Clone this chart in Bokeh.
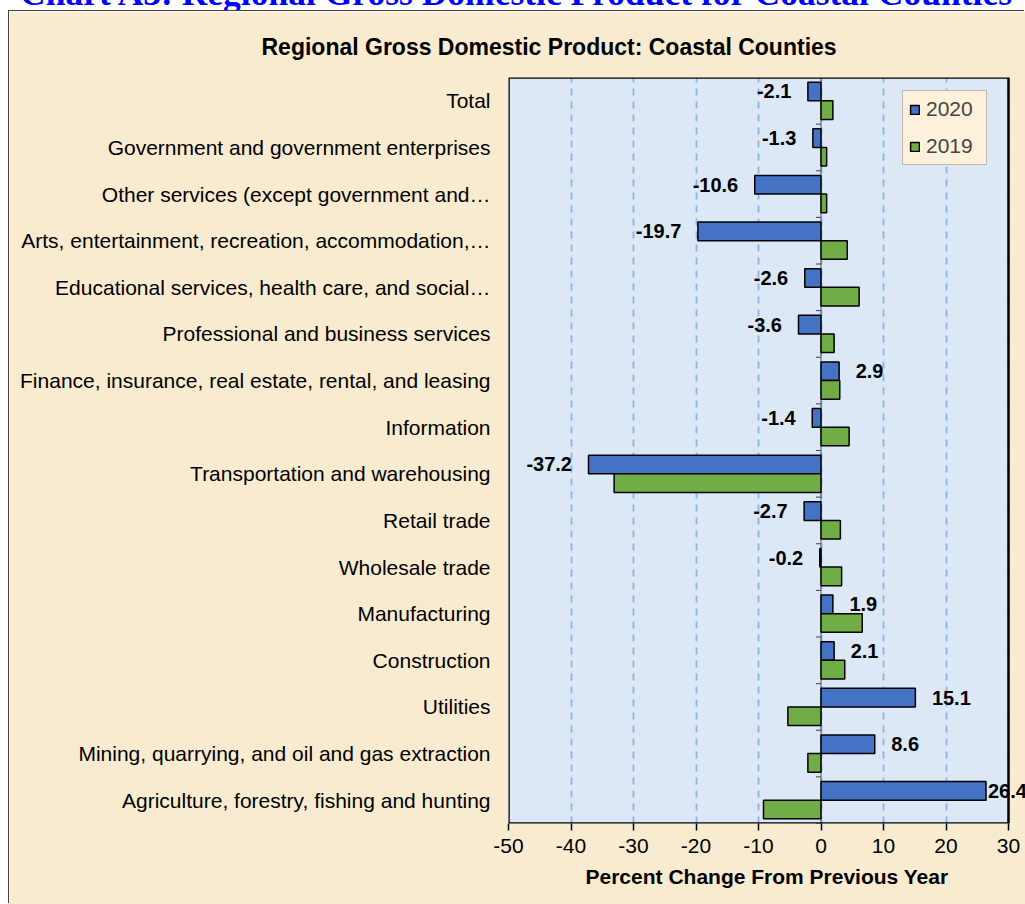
import math
from bokeh.plotting import figure
from bokeh.models import (ColumnDataSource, FactorRange, Range1d, Span, LabelSet,
                          Legend, LegendItem, Div, FixedTicker, BoxAnnotation)
from bokeh.transform import dodge
from bokeh.layouts import column
from bokeh.embed import file_html
from bokeh.resources import INLINE
from bokeh.core.properties import value

# ---------------- data ----------------
page_title = "Chart A3: Regional Gross Domestic Product for Coastal Counties"
chart_title = "Regional Gross Domestic Product: Coastal Counties"
x_axis_label = "Percent Change From Previous Year"
series_names = ["2020", "2019"]

categories = [
    "Total",
    "Government and government enterprises",
    "Other services (except government and\u2026",
    "Arts, entertainment, recreation, accommodation,\u2026",
    "Educational services, health care, and social\u2026",
    "Professional and business services",
    "Finance, insurance, real estate, rental, and leasing",
    "Information",
    "Transportation and warehousing",
    "Retail trade",
    "Wholesale trade",
    "Manufacturing",
    "Construction",
    "Utilities",
    "Mining, quarrying, and oil and gas extraction",
    "Agriculture, forestry, fishing and hunting",
]
pct_2020 = [-2.1, -1.3, -10.6, -19.7, -2.6, -3.6, 2.9, -1.4, -37.2, -2.7, -0.2, 1.9, 2.1, 15.1, 8.6, 26.4]
pct_2019 = [1.9, 0.9, 0.9, 4.2, 6.1, 2.1, 3.0, 4.5, -33.1, 3.1, 3.3, 6.6, 3.8, -5.3, -2.1, -9.2]
x_ticks = [-50, -40, -30, -20, -10, 0, 10, 20, 30]

# ---------------- styling ----------------
FONT = "Liberation Sans"
PARCHMENT = "#f9ebcf"
PLOT_BG = "#dce8f5"
BLUE = "#4472c4"
GREEN = "#70ad47"

CANVAS_W, CANVAS_H = 1016, 893
LEFT, TOP, BOTTOM = 499, 66, 81          # borders around the frame (px)
AXIS_PX = 500                            # pixel width of the -50..30 axis
x_lo, x_hi = x_ticks[0], x_ticks[-1]
# the frame runs on past the axis end (to the page edge) so that end labels are not clipped
x_end = x_hi + (CANVAS_W - LEFT - AXIS_PX) * (x_hi - x_lo) / AXIS_PX

label_gap = 16.5
labels_2020 = [f"{v:.1f}" for v in pct_2020]
align_2020 = ["left" if v > 0 else "right" for v in pct_2020]
xoff_2020 = [((2 if v > x_hi - 5 else label_gap) if v > 0 else -label_gap) for v in pct_2020]

src = ColumnDataSource(dict(cat=categories, v2020=pct_2020, v2019=pct_2019,
                            lbl=labels_2020, align=align_2020, xoff=xoff_2020))

p = figure(width=CANVAS_W, height=CANVAS_H,
           y_range=FactorRange(factors=categories[::-1]),
           x_range=Range1d(x_lo, x_end),
           output_backend="svg", toolbar_location=None,
           min_border_left=LEFT, min_border_right=0, min_border_top=TOP, min_border_bottom=BOTTOM,
           background_fill_color=PARCHMENT, border_fill_color=PARCHMENT,
           outline_line_color=None,
           margin=(0, 0, 0, 9),
           styles={"box-shadow": "-1px -1px 0 0 #404040"})

# chart title
p.title.text = chart_title
p.title.align = "left"
p.title.offset = -247
p.title.standoff = 36
p.title.text_font = FONT
p.title.text_font_size = "23px"
p.title.text_font_style = "bold"
p.title.text_color = "black"

# plot area fill (only over the axis span)
p.add_layout(BoxAnnotation(left=x_lo, right=x_hi, fill_color=PLOT_BG, fill_alpha=1,
                           line_color=None, level="image"))

# grid
p.xgrid.ticker = FixedTicker(ticks=x_ticks)
p.xgrid.grid_line_color = "#8db3e2"
p.xgrid.grid_line_dash = "7 6"
p.xgrid.grid_line_width = 1.8
p.ygrid.grid_line_color = None

# x axis
p.xaxis.ticker = FixedTicker(ticks=x_ticks)
p.xaxis.major_label_overrides = {t: str(t) for t in x_ticks}
p.xaxis.axis_line_color = None
p.xaxis.major_tick_out = 7
p.xaxis.major_tick_in = 0
p.xaxis.major_tick_line_color = "black"
p.xaxis.major_tick_line_width = 1.5
p.xaxis.minor_tick_line_color = None
p.xaxis.major_label_text_font = FONT
p.xaxis.major_label_text_font_size = "21px"
p.xaxis.major_label_text_color = "black"
p.xaxis.major_label_standoff = 8
p.xaxis.axis_label = x_axis_label
p.xaxis.axis_label_text_font = FONT
p.xaxis.axis_label_text_font_size = "21px"
p.xaxis.axis_label_text_font_style = "bold"
p.xaxis.axis_label_text_color = "black"
p.xaxis.axis_label_standoff = 9

# y axis
p.yaxis.axis_line_color = None
p.yaxis.major_tick_line_color = None
p.yaxis.major_tick_out = 0
p.yaxis.major_tick_in = 0
p.yaxis.minor_tick_line_color = None
p.yaxis.major_label_text_font = FONT
p.yaxis.major_label_text_font_size = "21px"
p.yaxis.major_label_text_color = "black"
p.yaxis.major_label_standoff = 18

# zero line with category boundary ticks
p.add_layout(Span(location=0, dimension="height", line_color="#595959", line_width=1, level="underlay"))
p.ray(x=0, y=dodge("cat", -0.5, range=p.y_range), length=5, length_units="screen",
      angle=math.pi, line_color="#404040", line_width=1, source=src)

# bars
r20 = p.hbar(y=dodge("cat", 0.2, range=p.y_range), left=0, right="v2020", height=0.4,
             fill_color=BLUE, line_color="black", line_width=1.5, source=src)
r19 = p.hbar(y=dodge("cat", -0.2, range=p.y_range), left=0, right="v2019", height=0.4,
             fill_color=GREEN, line_color="black", line_width=1.5, source=src)

# plot area border around the axis span
p.add_layout(BoxAnnotation(left=x_lo, right=x_hi, fill_color=None, fill_alpha=0,
                           line_color="black", line_alpha=1, line_width=2.5, level="annotation"))

# data labels for 2020
labels = LabelSet(x="v2020", y=dodge("cat", 0.2, range=p.y_range), text="lbl",
                  x_offset="xoff", text_align="align", text_baseline="middle",
                  text_font=value(FONT), text_font_size=value("20px"),
                  text_font_style=value("bold"), text_color=value("black"), source=src)
p.add_layout(labels)

# legend
legend = Legend(items=[LegendItem(label=series_names[0], renderers=[r20]),
                       LegendItem(label=series_names[1], renderers=[r19])],
                location=(394, 658), glyph_width=11, glyph_height=11,
                label_text_font=FONT, label_text_font_size="21px", label_standoff=6,
                label_width=54, padding=6, spacing=13, margin=0,
                background_fill_color="#fdf1dc", background_fill_alpha=1,
                border_line_color="#7f7f7f", border_line_width=1)
p.add_layout(legend)

head = Div(text=('<div style="font-family: \'Liberation Serif\'; font-weight: bold; '
                 'font-size: 35.5px; line-height: 35.5px; color: #0000ff; white-space: nowrap; '
                 'padding-left: 20px;">' + page_title + '</div>'),
           width=1025, height=35, margin=(-24, 0, 0, 0),
           styles={"overflow": "hidden"})

layout = column(head, p, spacing=0)

open("out.html", "w").write(file_html(layout, INLINE))
